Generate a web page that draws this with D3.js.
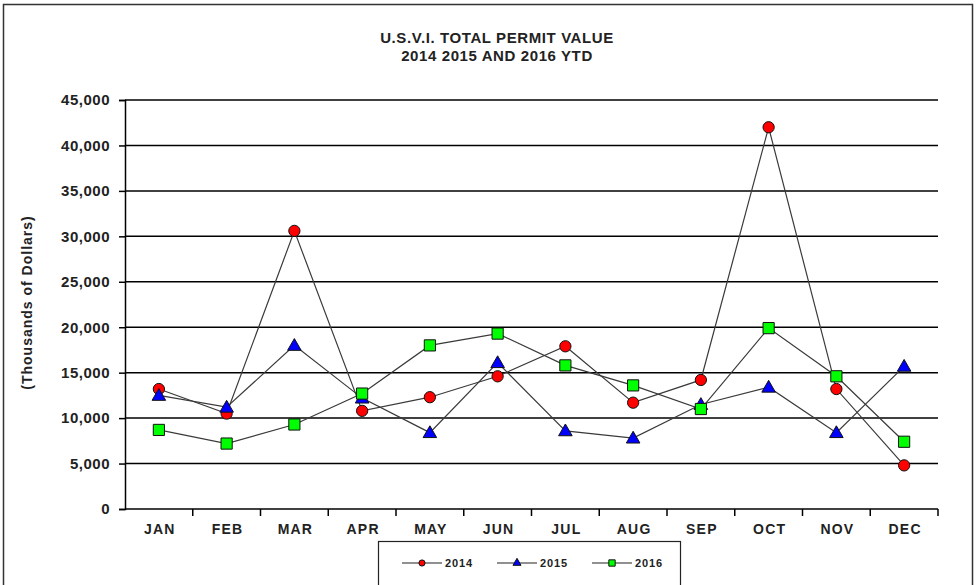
<!DOCTYPE html>
<html>
<head>
<meta charset="utf-8">
<script src="https://cdn.jsdelivr.net/npm/d3@7"></script>
<style>
  body { margin: 0; background: #fff; }
  svg { display: block; font-family: "Liberation Sans", Arial, sans-serif; }
</style>
</head>
<body>
<div id="chart"></div>
<script>
// chart data
const months = ["JAN", "FEB", "MAR", "APR", "MAY", "JUN", "JUL", "AUG", "SEP", "OCT", "NOV", "DEC"];
const values2014 = [13200, 10500, 30600, 10800, 12300, 14600, 17900, 11700, 14200, 42000, 13200, 4800];
const values2015 = [12500, 11200, 18000, 12200, 8400, 16100, 8600, 7800, 11500, 13400, 8400, 15700];
const values2016 = [8700, 7200, 9300, 12700, 18000, 19300, 15800, 13600, 11000, 19900, 14600, 7400];
const yTicks = [0, 5000, 10000, 15000, 20000, 25000, 30000, 35000, 40000, 45000];
const seriesNames = ["2014", "2015", "2016"];

const width = 977, height = 585;
const margin = { top: 100, right: 39, bottom: 76, left: 125 };

const series = [
  { name: seriesNames[0], values: values2014, color: "#ff0000", shape: "circle" },
  { name: seriesNames[1], values: values2015, color: "#0000ff", shape: "triangle" },
  { name: seriesNames[2], values: values2016, color: "#00ff00", shape: "square" }
];

const svg = d3.select("#chart").append("svg")
  .attr("width", width)
  .attr("height", height);

// outer frame
svg.append("rect")
  .attr("x", 3.5).attr("y", 4.5)
  .attr("width", 969).attr("height", 600)
  .attr("fill", "none").attr("stroke", "#333").attr("stroke-width", 1.5);

const x = d3.scaleBand(months, [margin.left, width - margin.right]);
const y = d3.scaleLinear([0, 45000], [height - margin.bottom, margin.top]);

// title
svg.append("text")
  .attr("x", 497).attr("y", 43)
  .attr("text-anchor", "middle")
  .attr("font-weight", "bold").attr("font-size", 15)
  .attr("letter-spacing", 0.6).attr("fill", "#222")
  .selectAll("tspan")
  .data(["U.S.V.I. TOTAL PERMIT VALUE", "2014 2015 AND 2016 YTD"])
  .join("tspan")
  .attr("x", 497)
  .attr("dy", (d, i) => i ? 18 : 0)
  .text(d => d);

// gridlines
svg.append("g")
  .selectAll("line")
  .data(yTicks.filter(d => d > 0))
  .join("line")
  .attr("x1", margin.left).attr("x2", width - margin.right)
  .attr("y1", d => y(d)).attr("y2", d => y(d))
  .attr("stroke", "#000").attr("stroke-width", 1.5);

// y axis
const yAxis = svg.append("g")
  .attr("transform", `translate(${margin.left},0)`)
  .call(d3.axisLeft(y).tickValues(yTicks).tickSize(6).tickPadding(9)
    .tickFormat(d3.format(",")));
yAxis.select(".domain").attr("stroke", "#000").attr("stroke-width", 1.5);
yAxis.selectAll(".tick line").attr("stroke", "#000").attr("stroke-width", 1.5);
yAxis.selectAll(".tick text")
  .attr("font-size", 15).attr("font-weight", "bold").attr("fill", "#222")
  .attr("letter-spacing", 0.5)
  .attr("font-family", "'Liberation Sans', Arial, sans-serif");

// x axis with ticks between months
const xAxis = svg.append("g")
  .attr("transform", `translate(0,${y(0)})`);
xAxis.append("line")
  .attr("x1", margin.left).attr("x2", width - margin.right)
  .attr("stroke", "#000").attr("stroke-width", 1.5);
xAxis.selectAll(".sep")
  .data(months.slice(1).concat(["end"]))
  .join("line")
  .attr("class", "sep")
  .attr("x1", (d, i) => margin.left + (i + 1) * x.bandwidth())
  .attr("x2", (d, i) => margin.left + (i + 1) * x.bandwidth())
  .attr("y1", 0).attr("y2", 7)
  .attr("stroke", "#000").attr("stroke-width", 1.5);
xAxis.selectAll(".lbl")
  .data(months)
  .join("text")
  .attr("class", "lbl")
  .attr("x", d => x(d) + x.bandwidth() / 2 + 1)
  .attr("y", 25)
  .attr("text-anchor", "middle")
  .attr("font-size", 14).attr("font-weight", "bold").attr("fill", "#222")
  .attr("letter-spacing", 1.2)
  .text(d => d);

// y axis title
svg.append("text")
  .attr("transform", `translate(32,${(margin.top + y(0)) / 2 - 2}) rotate(-90)`)
  .attr("text-anchor", "middle")
  .attr("font-size", 14).attr("font-weight", "bold").attr("fill", "#222")
  .attr("letter-spacing", 1)
  .text("(Thousands of Dollars)");

const line = d3.line()
  .x((d, i) => x(months[i]) + x.bandwidth() / 2)
  .y(d => y(d));

const symbolFor = {
  circle: d3.symbol(d3.symbolCircle, 100),
  triangle: d3.symbol(d3.symbolTriangle, 80),
  square: d3.symbol(d3.symbolSquare, 125)
};

for (const s of series) {
  svg.append("path")
    .attr("d", line(s.values))
    .attr("fill", "none")
    .attr("stroke", "#3a3a3a").attr("stroke-width", 1.2);
}

for (const s of series) {
  svg.append("g")
    .selectAll("path")
    .data(s.values)
    .join("path")
    .attr("transform", (d, i) => `translate(${x(months[i]) + x.bandwidth() / 2},${y(d) + (s.shape === "triangle" ? 1 : 0)})`)
    .attr("d", symbolFor[s.shape]())
    .attr("fill", s.color)
    .attr("stroke", "#111").attr("stroke-width", 1);
}

// legend
const legend = svg.append("g");
legend.append("rect")
  .attr("x", 378.5).attr("y", 541.5)
  .attr("width", 302).attr("height", 60)
  .attr("fill", "#fff").attr("stroke", "#222").attr("stroke-width", 1.2);

const legendSymbol = {
  circle: d3.symbol(d3.symbolCircle, 30),
  triangle: d3.symbol(d3.symbolTriangle, 28),
  square: d3.symbol(d3.symbolSquare, 40)
};

const item = legend.selectAll(".item")
  .data(series)
  .join("g")
  .attr("class", "item")
  .attr("transform", (d, i) => `translate(${402 + i * 95},563)`);
item.append("line")
  .attr("x1", 0).attr("x2", 40)
  .attr("stroke", "#222").attr("stroke-width", 1.2);
item.append("path")
  .attr("transform", "translate(20,0)")
  .attr("d", d => legendSymbol[d.shape]())
  .attr("fill", d => d.color)
  .attr("stroke", "#111").attr("stroke-width", 1);
item.append("text")
  .attr("x", 43).attr("y", 4)
  .attr("font-size", 11).attr("font-weight", "bold").attr("fill", "#222")
  .attr("letter-spacing", 0.9)
  .text(d => d.name);
</script>
</body>
</html>
